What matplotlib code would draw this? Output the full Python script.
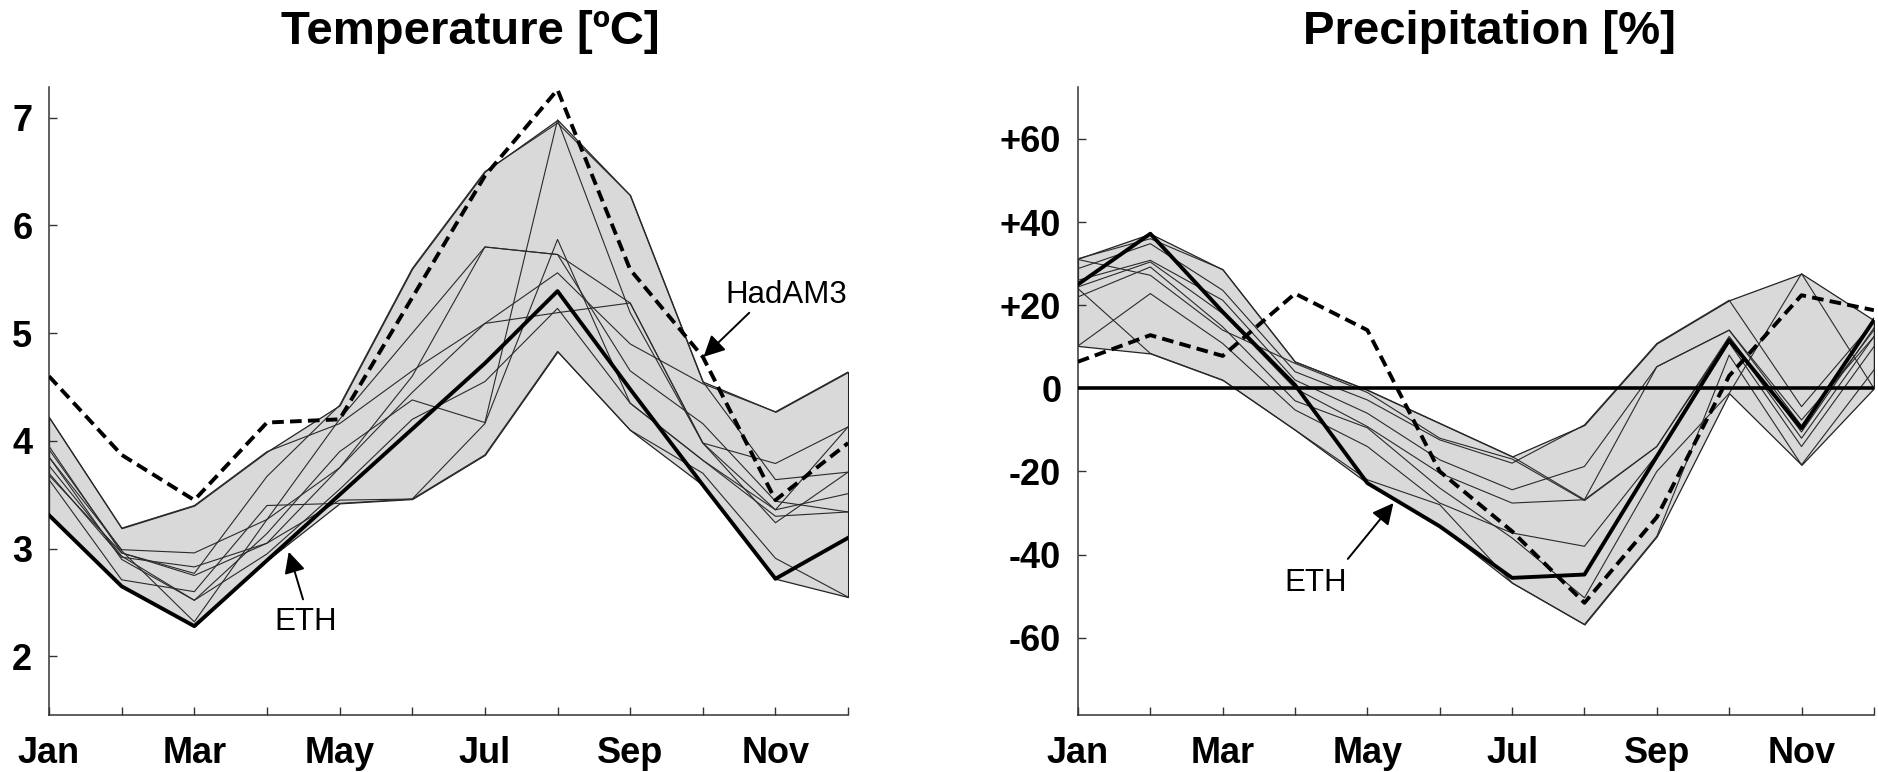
import numpy as np
import matplotlib.pyplot as plt

plt.rcParams['font.family'] = ['Liberation Sans', 'DejaVu Sans']

months = np.arange(12)
month_labels = ['Jan', '', 'Mar', '', 'May', '', 'Jul', '', 'Sep', '', 'Nov', '']

# temperature change [ºC], Jan..Dec
temp_eth = [3.31, 2.65, 2.28, 2.89, 3.50, 4.11, 4.72, 5.39, 4.48, 3.59, 2.72, 3.10]
temp_hadam3 = [4.60, 3.87, 3.45, 4.17, 4.20, 5.33, 6.46, 7.26, 5.59, 4.78, 3.45, 3.98]
temp_members = [
    [4.22, 3.19, 3.40, 3.90, 4.16, 4.65, 5.09, 5.56, 4.90, 4.53, 4.27, 4.64],
    [3.95, 2.96, 2.77, 3.67, 4.33, 5.60, 6.50, 6.95, 6.28, 4.55, 3.64, 3.71],
    [3.85, 2.99, 2.96, 3.27, 3.75, 4.60, 5.80, 5.73, 5.28, 3.98, 3.36, 3.51],
    [3.70, 2.92, 2.83, 3.05, 3.45, 3.46, 3.87, 4.83, 4.10, 3.70, 2.91, 2.55],
    [3.64, 2.71, 2.60, 3.40, 3.42, 3.46, 4.16, 5.87, 4.35, 3.82, 3.30, 3.34],
    [3.77, 2.93, 2.52, 3.14, 3.90, 4.38, 4.17, 6.98, 5.19, 3.98, 3.24, 3.71],
    [3.92, 2.98, 2.32, 3.27, 4.20, 5.00, 5.80, 5.73, 4.65, 4.16, 3.44, 3.34],
    [3.68, 2.96, 2.75, 3.05, 3.75, 4.45, 5.09, 5.19, 5.28, 3.98, 3.79, 4.13],
    [3.85, 2.90, 2.52, 2.95, 3.55, 4.20, 4.55, 5.23, 4.35, 3.82, 3.36, 4.13],
]

# precipitation change [%], Jan..Dec
prec_eth = [25.0, 37.2, 18.4, 0.8, -22.8, -33.2, -45.6, -44.8, -16.4, 11.6, -9.6, 16.4]
prec_hadam3 = [6.4, 12.8, 7.8, 22.8, 14.0, -20.0, -34.4, -51.6, -31.0, 3.0, 22.4, 18.8]
prec_members = [
    [31.2, 36.0, 28.6, 6.4, -0.4, -8.4, -16.4, -26.8, 5.2, 14.0, -7.6, 12.4],
    [28.8, 34.8, 23.6, 4.0, -2.8, -12.4, -18.0, -8.8, 10.8, 21.2, -4.4, 16.0],
    [26.0, 30.8, 21.2, 2.0, -6.0, -17.2, -24.4, -18.8, 5.2, 14.0, -9.0, 14.0],
    [24.4, 30.4, 18.0, 0.0, -9.2, -20.4, -27.6, -26.8, -14.0, 12.0, -12.0, 12.4],
    [10.2, 22.8, 10.8, -5.2, -14.0, -27.6, -34.8, -38.0, -16.0, 11.0, -14.0, 10.0],
    [24.0, 8.4, 2.0, -10.0, -22.0, -28.0, -46.8, -56.8, -35.6, 8.0, -18.4, 4.4],
    [22.0, 29.2, 14.8, -3.0, -9.5, -24.0, -36.0, -50.4, -20.0, -1.2, 27.6, 0.0],
    [31.0, 27.2, 14.0, 6.0, -1.0, -12.0, -17.0, -27.0, -14.0, 12.5, -10.5, 14.5],
]
prec_ticks = [60, 40, 20, 0, -20, -40, -60]
prec_ticklabels = ['+60', '+40', '+20', '0', '-20', '-40', '-60']


def draw_panel(ax, members, eth, hadam3):
    allm = np.array(members + [eth])
    lo, hi = allm.min(axis=0), allm.max(axis=0)
    ax.fill_between(months, lo, hi, facecolor='#d9d9d9', edgecolor='#222222',
                    lw=0.9, zorder=1)
    for m in members:
        ax.plot(months, m, color='#2a2a2a', lw=0.8, zorder=2)
    ax.plot(months, eth, color='black', lw=2.8, zorder=4)
    ax.plot(months, hadam3, color='black', lw=2.8, dashes=(3.0, 1.6), zorder=4)
    ax.set_xlim(0, 11)
    ax.set_xticks(months)
    ax.set_xticklabels(month_labels)
    ax.spines['top'].set_visible(False)
    ax.spines['right'].set_visible(False)
    for s in ['left', 'bottom']:
        ax.spines[s].set_linewidth(1.1)
        ax.spines[s].set_color('#333333')
    ax.tick_params(direction='in', length=6, width=1, color='#333333',
                   labelsize=26, pad=12)
    ax.tick_params(axis='x', pad=15)
    for lab in ax.get_xticklabels() + ax.get_yticklabels():
        lab.set_fontweight('bold')


fig = plt.figure(figsize=(18.78, 7.72), dpi=100)
ax1 = fig.add_axes([0.0261, 0.0738, 0.4255, 0.8135])
ax2 = fig.add_axes([0.5740, 0.0738, 0.4238, 0.8135])

# temperature
ax1.set_ylim(1.455, 7.285)
ax1.set_yticks([2, 3, 4, 5, 6, 7])
draw_panel(ax1, temp_members, temp_eth, temp_hadam3)
ax1.annotate('HadAM3', xy=(9.01, 4.78), xytext=(9.31, 5.28), fontsize=22.5,
             ha='left', va='baseline',
             arrowprops=dict(arrowstyle='-|>', mutation_scale=32, lw=1.4,
                             color='black', shrinkA=0, shrinkB=0,
                             relpos=(0.22, 0.0)))
ax1.annotate('ETH', xy=(3.30, 2.97), xytext=(3.53, 2.24), fontsize=22.5,
             ha='center', va='baseline',
             arrowprops=dict(arrowstyle='-|>', mutation_scale=32, lw=1.4,
                             color='black', shrinkA=4, shrinkB=0,
                             relpos=(0.5, 1.0)))

# precipitation
ax2.set_ylim(-78.6, 72.5)
ax2.axhline(0, color='black', lw=2.6, zorder=3)
ax2.set_yticks(prec_ticks)
ax2.set_yticklabels(prec_ticklabels)
draw_panel(ax2, prec_members, prec_eth, prec_hadam3)
ax2.annotate('ETH', xy=(4.36, -27.6), xytext=(3.28, -48.8), fontsize=22.5,
             ha='center', va='baseline',
             arrowprops=dict(arrowstyle='-|>', mutation_scale=32, lw=1.4,
                             color='black', shrinkA=6, shrinkB=0,
                             relpos=(0.9, 1.0)))

fig.text(0.2503, 0.943, 'Temperature [ºC]', fontsize=34, fontweight='bold',
         ha='center', va='baseline')
fig.text(0.7929, 0.943, 'Precipitation [%]', fontsize=34, fontweight='bold',
         ha='center', va='baseline')

fig.savefig('out.png', dpi=100)
